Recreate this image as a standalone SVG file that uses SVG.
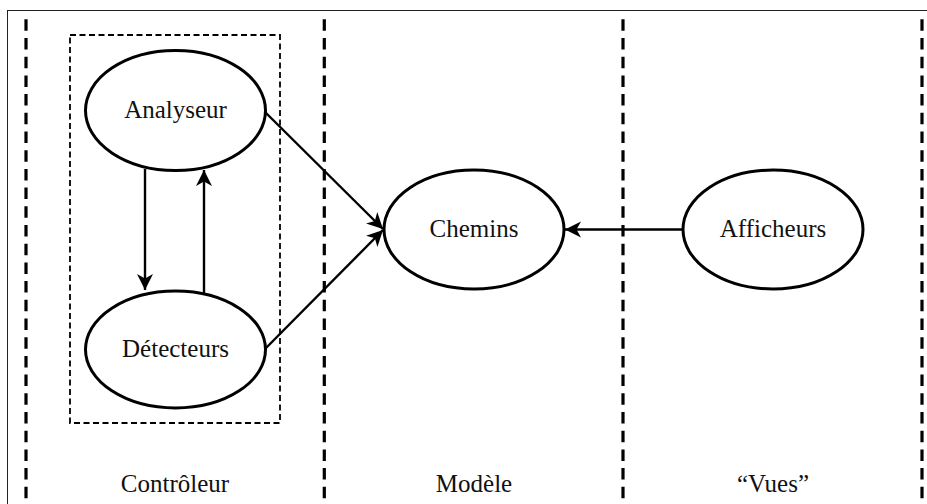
<svg xmlns="http://www.w3.org/2000/svg" width="927" height="504" viewBox="0 0 927 504">
<style>
.node{fill:#fff;stroke:#000;stroke-width:3}
.lbl{font-family:"Liberation Serif","Times New Roman",serif;font-size:25px;fill:#111;text-anchor:middle}
.lane{stroke:#000;stroke-width:3.2;stroke-dasharray:11.5 7.2;fill:none}
.box{stroke:#000;stroke-width:1.8;stroke-dasharray:6 3.5;fill:none}
.edge{stroke:#000;stroke-width:2.4;fill:none;marker-end:url(#ah)}
</style>
<defs>
<marker id="ah" markerUnits="userSpaceOnUse" markerWidth="17" markerHeight="17" viewBox="-17 -8.5 17 17" refX="0" refY="0" orient="auto">
<path d="M0,0 L-16,-8 L-11.5,0 L-16,8 Z" fill="#000"/>
</marker>
</defs>
<rect x="0" y="0" width="927" height="504" fill="#fff"/>
<g id="frame">
<rect x="7.5" y="10.5" width="940" height="520" fill="none" stroke="#222" stroke-width="1"/>
<line class="lane" x1="26" y1="19.3" x2="26" y2="504"/>
<line class="lane" x1="324.3" y1="19.3" x2="324.3" y2="504"/>
<line class="lane" x1="623" y1="19.3" x2="623" y2="504"/>
<line class="lane" x1="922" y1="19.3" x2="922" y2="504"/>
<rect class="box" x="70" y="35" width="210" height="388"/>
</g>
<g id="connectors">
<line class="edge" x1="145" y1="169" x2="145" y2="290"/>
<line class="edge" x1="204" y1="293" x2="204" y2="170"/>
<line class="edge" x1="265" y1="112" x2="383" y2="229"/>
<line class="edge" x1="265" y1="349" x2="383" y2="230"/>
<line class="edge" x1="683" y1="229.5" x2="565" y2="229.5"/>
</g>
<g id="analyseur">
<ellipse class="node" cx="175.5" cy="110.5" rx="90" ry="60"/>
<text class="lbl" x="175.5" y="118">Analyseur</text>
</g>
<g id="detecteurs">
<ellipse class="node" cx="175.5" cy="349.5" rx="90" ry="58.5"/>
<text class="lbl" x="175.5" y="357">Détecteurs</text>
</g>
<g id="chemins">
<ellipse class="node" cx="474" cy="229.5" rx="90" ry="59.5"/>
<text class="lbl" x="474" y="237">Chemins</text>
</g>
<g id="afficheurs">
<ellipse class="node" cx="773" cy="229.5" rx="90" ry="59.5"/>
<text class="lbl" x="773" y="237">Afficheurs</text>
</g>
<g id="lane-labels">
<text class="lbl" x="175" y="492">Contrôleur</text>
<text class="lbl" x="474" y="492">Modèle</text>
<text class="lbl" x="773" y="492">“Vues”</text>
</g>
</svg>
